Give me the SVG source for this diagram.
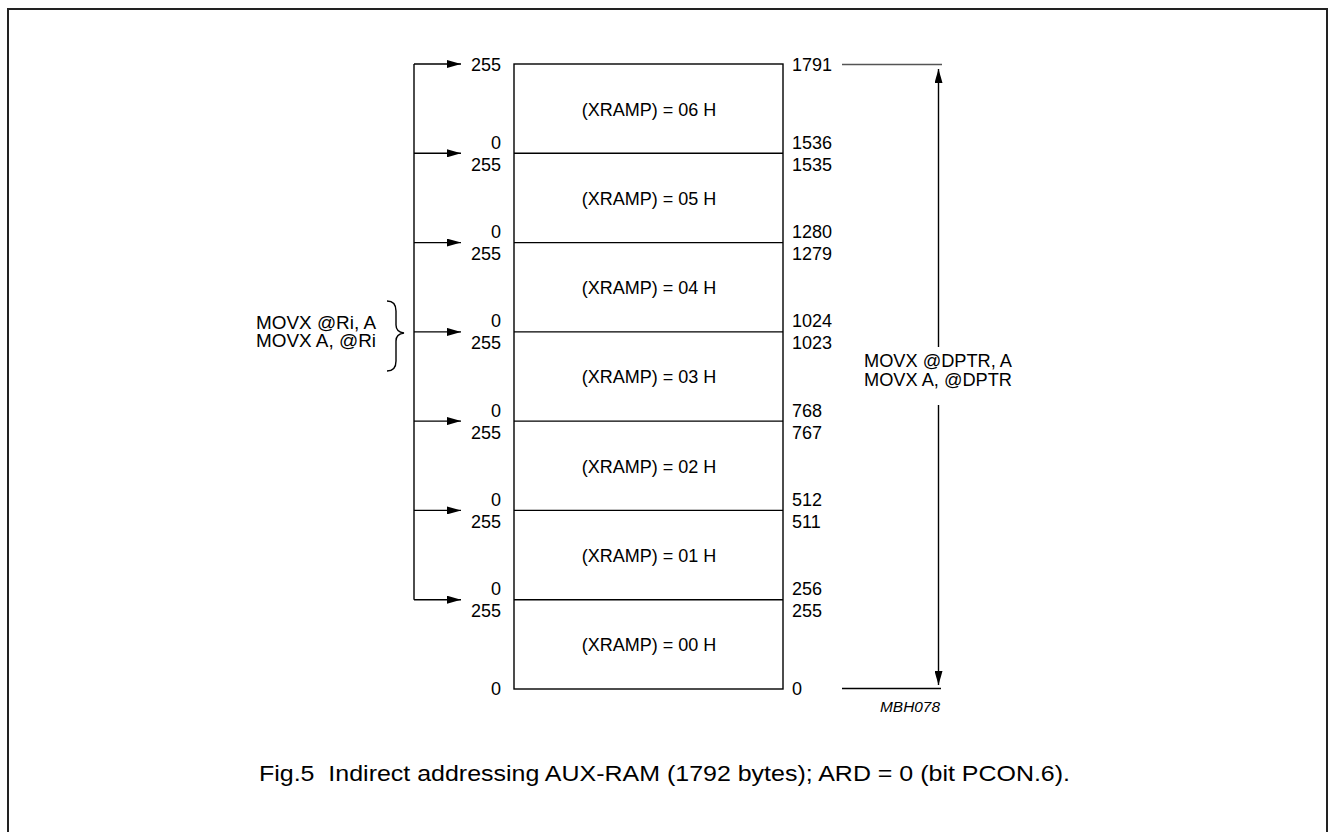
<svg xmlns="http://www.w3.org/2000/svg" width="1329" height="832" viewBox="0 0 1329 832">
<defs>
<marker id="ah" viewBox="0 0 14 8" refX="14" refY="4" markerWidth="14" markerHeight="8" markerUnits="userSpaceOnUse" orient="auto-start-reverse">
<path d="M0,0 L14,4 L0,8 Z" fill="#000"/>
</marker>
</defs>
<style>
text{font-family:"Liberation Sans",Arial,sans-serif;fill:#000;font-size:18px}
.r{text-anchor:end}
.c{text-anchor:middle}
.ln{stroke:#000;stroke-width:1.4;fill:none}
.gl{stroke:#555;stroke-width:1.4;fill:none}
</style>
<rect x="8" y="9" width="1319" height="840" fill="#fff" stroke="#222" stroke-width="2"/>
<g id="memory">
<rect x="514" y="64" width="269" height="625" class="ln"/>
<line x1="514" y1="153.3" x2="783" y2="153.3" class="ln"/>
<line x1="514" y1="242.6" x2="783" y2="242.6" class="ln"/>
<line x1="514" y1="331.9" x2="783" y2="331.9" class="ln"/>
<line x1="514" y1="421.1" x2="783" y2="421.1" class="ln"/>
<line x1="514" y1="510.4" x2="783" y2="510.4" class="ln"/>
<line x1="514" y1="599.7" x2="783" y2="599.7" class="ln"/>
<text x="649" y="116" class="c">(XRAMP) = 06 H</text>
<text x="649" y="205" class="c">(XRAMP) = 05 H</text>
<text x="649" y="294" class="c">(XRAMP) = 04 H</text>
<text x="649" y="383" class="c">(XRAMP) = 03 H</text>
<text x="649" y="473" class="c">(XRAMP) = 02 H</text>
<text x="649" y="562" class="c">(XRAMP) = 01 H</text>
<text x="649" y="651" class="c">(XRAMP) = 00 H</text>
</g>
<g id="left-labels">
<text x="501" y="70.5" class="r">255</text>
<text x="501" y="149" class="r">0</text>
<text x="501" y="171" class="r">255</text>
<text x="501" y="238" class="r">0</text>
<text x="501" y="260" class="r">255</text>
<text x="501" y="327" class="r">0</text>
<text x="501" y="349" class="r">255</text>
<text x="501" y="417" class="r">0</text>
<text x="501" y="439" class="r">255</text>
<text x="501" y="506" class="r">0</text>
<text x="501" y="528" class="r">255</text>
<text x="501" y="595" class="r">0</text>
<text x="501" y="617" class="r">255</text>
<text x="501" y="695" class="r">0</text>
</g>
<g id="right-labels">
<text x="792" y="70.5">1791</text>
<text x="792" y="149">1536</text>
<text x="792" y="171">1535</text>
<text x="792" y="238">1280</text>
<text x="792" y="260">1279</text>
<text x="792" y="327">1024</text>
<text x="792" y="349">1023</text>
<text x="792" y="417">768</text>
<text x="792" y="439">767</text>
<text x="792" y="506">512</text>
<text x="792" y="528">511</text>
<text x="792" y="595">256</text>
<text x="792" y="617">255</text>
<text x="792" y="695">0</text>
</g>
<g id="connectors">
<line x1="414" y1="64" x2="414" y2="599.7" class="ln"/>
<line x1="414" y1="64" x2="461" y2="64" class="ln" marker-end="url(#ah)"/>
<line x1="414" y1="153.3" x2="461" y2="153.3" class="ln" marker-end="url(#ah)"/>
<line x1="414" y1="242.6" x2="461" y2="242.6" class="ln" marker-end="url(#ah)"/>
<line x1="414" y1="331.9" x2="461" y2="331.9" class="ln" marker-end="url(#ah)"/>
<line x1="414" y1="421.1" x2="461" y2="421.1" class="ln" marker-end="url(#ah)"/>
<line x1="414" y1="510.4" x2="461" y2="510.4" class="ln" marker-end="url(#ah)"/>
<line x1="414" y1="599.7" x2="461" y2="599.7" class="ln" marker-end="url(#ah)"/>
<line x1="842" y1="64.5" x2="942" y2="64.5" class="gl"/>
<line x1="842" y1="688.5" x2="941" y2="688.5" class="ln"/>
<line x1="938.5" y1="69" x2="938.5" y2="347" class="ln" marker-start="url(#ah)"/>
<line x1="938.5" y1="405" x2="938.5" y2="685" class="ln" marker-end="url(#ah)"/>
<path d="M387,301 Q396,301 396,311 L396,325 Q396,332 404,333 Q396,334 396,341 L396,361 Q396,371 387,371" class="ln"/>
</g>
<g id="annotations">
<text x="256" y="328.5" textLength="120" lengthAdjust="spacingAndGlyphs">MOVX @Ri, A</text>
<text x="256" y="347" textLength="120" lengthAdjust="spacingAndGlyphs">MOVX A, @Ri</text>
<text x="864" y="366.5" textLength="148" lengthAdjust="spacingAndGlyphs">MOVX @DPTR, A</text>
<text x="864" y="385.5" textLength="148" lengthAdjust="spacingAndGlyphs">MOVX A, @DPTR</text>
<text x="880" y="712" textLength="60" lengthAdjust="spacingAndGlyphs" style="font-size:14px;font-style:italic">MBH078</text>
<text x="259" y="781" xml:space="preserve" textLength="811" lengthAdjust="spacingAndGlyphs" style="font-size:22px;white-space:pre">Fig.5  Indirect addressing AUX-RAM (1792 bytes); ARD = 0 (bit PCON.6).</text>
</g>
</svg>
